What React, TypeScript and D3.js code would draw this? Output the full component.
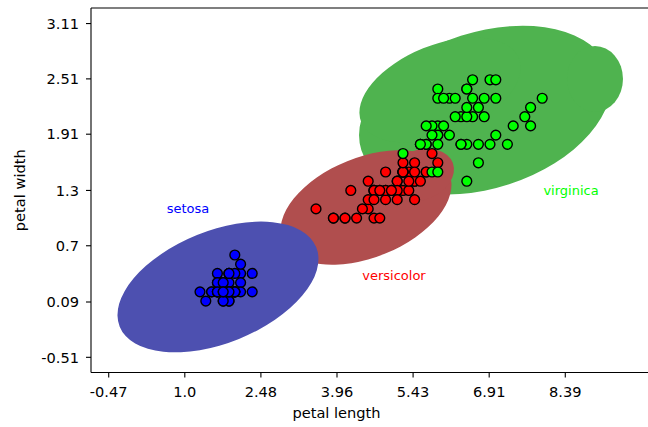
import React from "react";
import * as d3 from "d3";

// ---- data (iris: petal length / petal width) ----
const setosaLength = [1.4,1.4,1.3,1.5,1.4,1.7,1.4,1.5,1.4,1.5,1.5,1.6,1.4,1.1,1.2,1.5,1.3,1.4,1.7,1.5,1.7,1.5,1.0,1.7,1.9,1.6,1.6,1.5,1.4,1.6,1.6,1.5,1.5,1.4,1.5,1.2,1.3,1.4,1.3,1.5,1.3,1.3,1.3,1.6,1.9,1.4,1.6,1.4,1.5,1.4];
const setosaWidth = [0.2,0.2,0.2,0.2,0.2,0.4,0.3,0.2,0.2,0.1,0.2,0.2,0.1,0.1,0.2,0.4,0.4,0.3,0.3,0.3,0.2,0.4,0.2,0.5,0.2,0.2,0.4,0.2,0.2,0.2,0.2,0.4,0.1,0.2,0.2,0.2,0.2,0.1,0.2,0.2,0.3,0.3,0.2,0.6,0.4,0.3,0.2,0.2,0.2,0.2];
const versicolorLength = [4.7,4.5,4.9,4.0,4.6,4.5,4.7,3.3,4.6,3.9,3.5,4.2,4.0,4.7,3.6,4.4,4.5,4.1,4.5,3.9,4.8,4.0,4.9,4.7,4.3,4.4,4.8,5.0,4.5,3.5,3.8,3.7,3.9,5.1,4.5,4.5,4.7,4.4,4.1,4.0,4.4,4.6,4.0,3.3,4.2,4.2,4.2,4.3,3.0,4.1];
const versicolorWidth = [1.4,1.5,1.5,1.3,1.5,1.3,1.6,1.0,1.3,1.4,1.0,1.5,1.0,1.4,1.3,1.4,1.5,1.0,1.5,1.1,1.8,1.3,1.5,1.2,1.3,1.4,1.4,1.7,1.5,1.0,1.1,1.0,1.2,1.6,1.5,1.6,1.5,1.3,1.3,1.3,1.2,1.4,1.2,1.0,1.3,1.2,1.3,1.3,1.1,1.3];
const virginicaLength = [6.0,5.1,5.9,5.6,5.8,6.6,4.5,6.3,5.8,6.1,5.1,5.3,5.5,5.0,5.1,5.3,5.5,6.7,6.9,5.0,5.7,4.9,6.7,4.9,5.7,6.0,4.8,4.9,5.6,5.8,6.1,6.4,5.6,5.1,5.6,6.1,5.6,5.5,4.8,5.4,5.6,5.1,5.1,5.9,5.7,5.2,5.0,5.2,5.4,5.1];
const virginicaWidth = [2.5,1.9,2.1,1.8,2.2,2.1,1.7,1.8,1.8,2.5,2.0,1.9,2.1,2.0,2.4,2.3,1.8,2.2,2.3,1.5,2.3,2.0,2.0,1.8,2.1,1.8,1.8,1.8,2.1,1.6,1.9,2.0,2.2,1.5,1.4,2.3,2.4,1.8,1.8,2.1,2.4,2.3,1.9,2.3,2.5,2.3,1.9,2.0,2.3,1.8];

const species = ["setosa", "versicolor", "virginica"];

// axis tick labels (x labels sit at their own positions in data units)
const xTickLabels = ["-0.47", "1.0", "2.48", "3.96", "5.43", "6.91", "8.39"];
const xTickPositions = [-0.574, 0.738, 2.05, 3.362, 4.674, 5.986, 7.298];
const yTickValues = [3.11, 2.51, 1.91, 1.3, 0.7, 0.09, -0.51];

// region ellipses per species (centre in data units, radii in px, angle in deg)
const regionSpecies = ["virginica", "virginica", "virginica", "versicolor", "versicolor", "setosa"];
const regionCx = [5.914, 5.138, 7.81, 3.862, 4.793, 1.31];
const regionCy = [2.172, 2.389, 2.509, 1.115, 1.467, 0.253];
const regionRx = [130, 85, 28, 90, 35, 106];
const regionRy = [78, 45, 33, 50, 25, 56];
const regionAngle = [18, 22, 0, 22, 20, 22];

// text annotations
const annotationText = ["setosa", "versicolor", "virginica"];
const annotationX = [0.793, 4.345, 7.397];
const annotationY = [1.11, 0.383, 1.3];

// ---- style ----
const W = 648;
const H = 427;
const plot = { left: 91, top: 8, bottom: 372.5, right: 660 };
const pointColor: Record<string, string> = { setosa: "#0000ff", versicolor: "#ff0000", virginica: "#00ff00" };
const regionColor: Record<string, string> = { setosa: "#4d50b0", versicolor: "#b04e4e", virginica: "#4fb34f" };
const FONT = "DejaVu Sans, sans-serif";
const FS = 14.6;

export default function App() {
  const x = d3.scaleLinear().domain([0, 10]).range([142, 722]);
  const y = d3.scaleLinear().domain([0, 3]).range([310.3, 33.7]);

  const groups = [
    { name: "setosa", L: setosaLength, Wd: setosaWidth },
    { name: "versicolor", L: versicolorLength, Wd: versicolorWidth },
    { name: "virginica", L: virginicaLength, Wd: virginicaWidth },
  ];

  return (
    <svg width={W} height={H} style={{ position: "absolute", left: 0, top: 0, background: "#fff" }} fontFamily={FONT}>
      <defs>
        <clipPath id="plotclip">
          <rect x={plot.left} y={plot.top} width={plot.right - plot.left} height={plot.bottom - plot.top} />
        </clipPath>
      </defs>
      <g clipPath="url(#plotclip)">
        {regionSpecies.map((s, i) => {
          const cx = x(regionCx[i]);
          const cy = y(regionCy[i]);
          return (
            <ellipse
              key={"r" + i}
              cx={cx}
              cy={cy}
              rx={regionRx[i]}
              ry={regionRy[i]}
              transform={`rotate(${-regionAngle[i]} ${cx} ${cy})`}
              fill={regionColor[s]}
            />
          );
        })}
        {groups.map((g) =>
          g.L.map((l, i) => (
            <circle
              key={g.name + i}
              cx={x(l)}
              cy={y(g.Wd[i])}
              r={4.9}
              fill={pointColor[g.name]}
              stroke="#000"
              strokeWidth={1.4}
            />
          ))
        )}
        {annotationText.map((t, i) => (
          <text
            key={t}
            x={x(annotationX[i])}
            y={y(annotationY[i])}
            dy="0.35em"
            textAnchor="middle"
            fontSize={13}
            fill={pointColor[species[i]]}
          >
            {t}
          </text>
        ))}
      </g>

      {/* spines */}
      <line x1={plot.left} x2={plot.left} y1={plot.top} y2={plot.bottom} stroke="#000" strokeWidth={1.1} />
      <line x1={plot.left} x2={W} y1={plot.top} y2={plot.top} stroke="#000" strokeWidth={1.1} />
      <line x1={plot.left} x2={W} y1={plot.bottom} y2={plot.bottom} stroke="#000" strokeWidth={1.1} />

      {/* x ticks */}
      {xTickPositions.map((p, i) => (
        <g key={"xt" + i}>
          <line x1={x(p)} x2={x(p)} y1={plot.bottom} y2={plot.bottom + 5} stroke="#000" strokeWidth={1.1} />
          <text x={x(p)} y={plot.bottom + 24} textAnchor="middle" fontSize={FS} fill="#000">
            {xTickLabels[i]}
          </text>
        </g>
      ))}

      {/* y ticks */}
      {yTickValues.map((v, i) => (
        <g key={"yt" + i}>
          <line x1={plot.left - 5} x2={plot.left} y1={y(v)} y2={y(v)} stroke="#000" strokeWidth={1.1} />
          <text x={plot.left - 12} y={y(v)} dy="0.36em" textAnchor="end" fontSize={FS} fill="#000">
            {String(v)}
          </text>
        </g>
      ))}

      <text x={336.5} y={418} textAnchor="middle" fontSize={FS} fill="#000">petal length</text>
      <text transform={`translate(25, ${(plot.top + plot.bottom) / 2}) rotate(-90)`} textAnchor="middle" fontSize={FS} fill="#000">
        petal width
      </text>
    </svg>
  );
}
